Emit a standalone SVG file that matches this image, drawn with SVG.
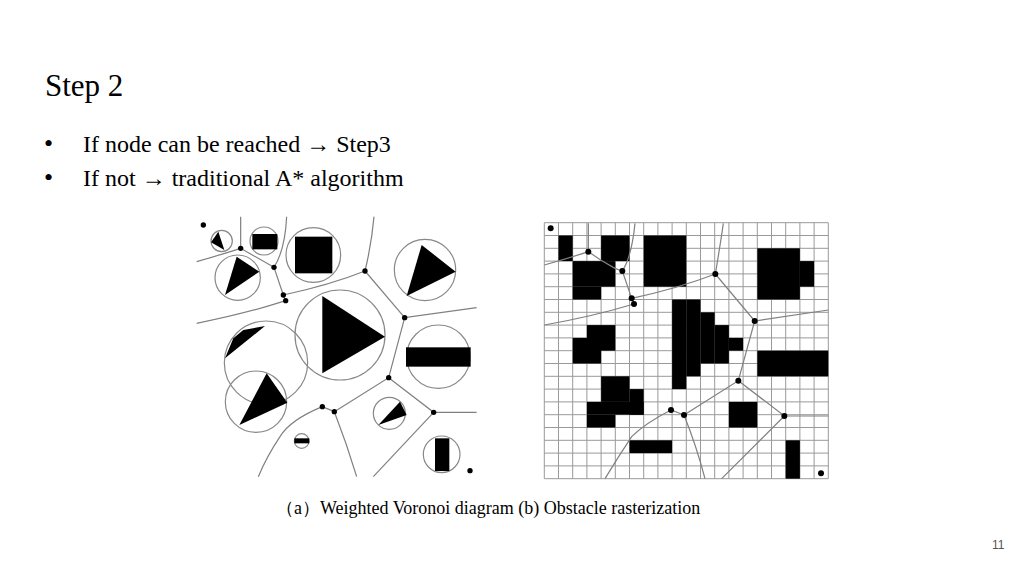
<svg xmlns="http://www.w3.org/2000/svg" width="1024" height="576" viewBox="0 0 1024 576">
<style>
.t{font-family:"Liberation Serif",serif;fill:#000}
.ln{fill:none;stroke:#808080;stroke-width:1.2;vector-effect:non-scaling-stroke}
.c{fill:none;stroke:#888;stroke-width:1.2;vector-effect:non-scaling-stroke}
.g{fill:none;stroke:#999;stroke-width:1;vector-effect:non-scaling-stroke}
</style>
<rect width="1024" height="576" fill="#fff"/>
<text class="t" x="45" y="96" font-size="31">Step 2</text>
<text class="t" x="44" y="152" font-size="26">•</text>
<text class="t" x="44" y="186" font-size="26">•</text>
<text class="t" x="83" y="152" font-size="24">If node can be reached → Step3</text>
<text class="t" x="83" y="186" font-size="24">If not → traditional A* algorithm</text>
<text x="992" y="549" font-family="Liberation Sans,sans-serif" font-size="12" fill="#555">11</text>
<text class="t" x="276" y="514" font-size="18" fill="#222">（a）Weighted Voronoi diagram   (b) Obstacle rasterization</text>

<g id="voronoi" transform="translate(190,210) scale(0.33333)">
 <g id="obstacles">
  <circle class="c" cx="95" cy="93" r="32"/><polygon points="63,97 85,65 103,120"/>
  <circle class="c" cx="222" cy="93" r="42"/><rect x="187" y="72" width="75" height="46"/>
  <circle class="c" cx="370" cy="135" r="82"/><rect x="315" y="80" width="112" height="110"/>
  <circle class="c" cx="143" cy="203" r="68"/><polygon points="140,140 208,185 105,255"/>
  <circle class="c" cx="705" cy="180" r="92"/><polygon points="695,105 797,185 650,258"/>
  <circle class="c" cx="450" cy="375" r="135"/><polygon points="397,258 585,380 397,490"/>
  <circle class="c" cx="228" cy="458" r="125"/><polygon points="105,445 130,385 160,360 225,348"/>
  <circle class="c" cx="198" cy="575" r="92"/><polygon points="230,490 292,578 148,645"/>
  <circle class="c" cx="745" cy="440" r="95"/><rect x="648" y="412" width="194" height="58"/>
  <circle class="c" cx="598" cy="610" r="48"/><polygon points="565,645 630,575 650,615"/>
  <circle class="c" cx="335" cy="693" r="22"/><rect x="313" y="685" width="45" height="15"/>
  <circle class="c" cx="755" cy="733" r="55"/><rect x="735" y="685" width="43" height="98"/>
 </g>
 <g id="edges-a">
  <path class="ln" d="M152,20 L152,115 M20,155 Q90,135 152,115 L252,172 M290,20 Q285,120 252,172 L280,255 L287,272 M280,255 Q420,225 525,183 M20,340 Q170,310 287,272 M525,183 Q545,100 552,20 M525,183 L644,323 L860,293 M644,323 L596,503 L433,605 M596,503 L731,607 L860,607 M731,607 L550,800 M433,605 Q470,700 500,800 M433,605 L397,590 Q300,630 270,680 Q230,740 205,800"/>
 </g>
 <g id="nodes-a">
  <circle cx="40" cy="45" r="8"/><circle cx="152" cy="115" r="8"/><circle cx="252" cy="172" r="8"/><circle cx="280" cy="255" r="8"/><circle cx="287" cy="272" r="8"/><circle cx="525" cy="183" r="8"/><circle cx="644" cy="323" r="8"/><circle cx="596" cy="503" r="8"/><circle cx="397" cy="590" r="8"/><circle cx="433" cy="605" r="8"/><circle cx="731" cy="607" r="8"/><circle cx="840" cy="782" r="8"/>
 </g>
</g>

<g id="raster">
 <g transform="translate(544.3,222.7) scale(14.2,12.8)">
  <path class="g" d="M0,0H20M0,1H20M0,2H20M0,3H20M0,4H20M0,5H20M0,6H20M0,7H20M0,8H20M0,9H20M0,10H20M0,11H20M0,12H20M0,13H20M0,14H20M0,15H20M0,16H20M0,17H20M0,18H20M0,19H20M0,20H20M0,0V20M1,0V20M2,0V20M3,0V20M4,0V20M5,0V20M6,0V20M7,0V20M8,0V20M9,0V20M10,0V20M11,0V20M12,0V20M13,0V20M14,0V20M15,0V20M16,0V20M17,0V20M18,0V20M19,0V20M20,0V20"/>
  <g fill="#000">
   <rect x="1" y="1" width="1" height="2"/><rect x="4" y="1" width="2" height="2"/><rect x="2" y="3" width="3" height="2"/><rect x="2" y="5" width="2" height="1"/>
   <rect x="7" y="1" width="3" height="4"/><rect x="15" y="2" width="3" height="4"/><rect x="18" y="3" width="1" height="2"/>
   <rect x="9" y="6" width="1" height="7"/><rect x="10" y="6" width="1" height="6"/><rect x="11" y="7" width="1" height="4"/><rect x="12" y="8" width="1" height="3"/><rect x="13" y="9" width="1" height="1"/>
   <rect x="3" y="8" width="2" height="2"/><rect x="2" y="9" width="2" height="2"/>
   <rect x="15" y="10" width="5" height="2"/>
   <rect x="4" y="12" width="2" height="2"/><rect x="6" y="13" width="1" height="2"/><rect x="3" y="14" width="4" height="1"/><rect x="3" y="15" width="2" height="1"/>
   <rect x="13" y="14" width="2" height="2"/><rect x="6" y="17" width="3" height="1"/><rect x="17" y="17" width="1" height="3"/>
  </g>
 </g>
 <g transform="translate(535,210) scale(0.33333)">
  <g id="edges-b">
   <path class="ln" d="M160,40 L160,125 M28,165 Q100,145 160,125 L197,150 L240,175 L262,183 M300,40 Q290,140 262,183 L290,265 L297,282 M290,265 Q430,235 541,192 M28,345 Q170,320 297,282 M541,192 Q555,110 565,40 M541,192 L659,333 L880,300 M659,333 L610,512 L447,615 M610,512 L748,618 L880,618 M748,618 L560,806 M447,615 Q485,710 510,806 M447,615 L408,600 Q330,640 290,680 Q250,740 210,806"/>
  </g>
  <g id="nodes-b">
   <circle cx="47" cy="55" r="9"/><circle cx="160" cy="125" r="9"/><circle cx="262" cy="183" r="9"/><circle cx="290" cy="265" r="9"/><circle cx="297" cy="282" r="9"/><circle cx="541" cy="192" r="9"/><circle cx="659" cy="333" r="9"/><circle cx="610" cy="512" r="9"/><circle cx="408" cy="600" r="9"/><circle cx="447" cy="615" r="9"/><circle cx="748" cy="618" r="9"/><circle cx="858" cy="790" r="9"/>
  </g>
 </g>
</g>
</svg>
